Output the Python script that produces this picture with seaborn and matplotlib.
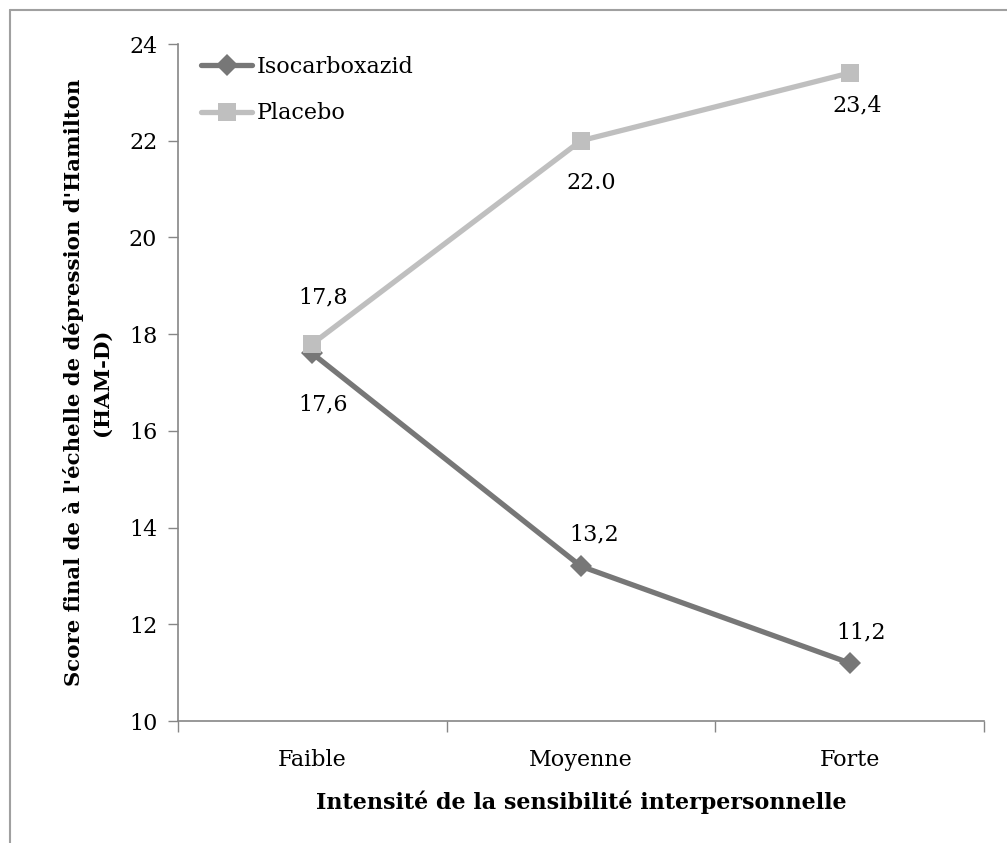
import matplotlib
matplotlib.use("Agg")
import matplotlib.pyplot as plt
import seaborn as sns
import pandas as pd
from matplotlib.lines import Line2D

categories = ["Faible", "Moyenne", "Forte"]
series_names = ["Isocarboxazid", "Placebo"]
iso_values = [17.6, 13.2, 11.2]
placebo_values = [17.8, 22.0, 23.4]
iso_labels = ["17,6", "13,2", "11,2"]
placebo_labels = ["17,8", "22.0", "23,4"]
y_ticks = [10, 12, 14, 16, 18, 20, 22, 24]

sns.set_theme(style="white")
plt.rcParams['font.family'] = ['DejaVu Serif']
plt.rcParams['text.color'] = 'black'

df = pd.DataFrame({
    "cat": categories * 2,
    "val": iso_values + placebo_values,
    "serie": [series_names[0]] * 3 + [series_names[1]] * 3,
})

fig = plt.figure(figsize=(10.07, 8.43), dpi=100)
ax = fig.add_axes([0.1768, 0.1447, 0.977 - 0.1768, 0.9478 - 0.1447])

palette = {"Isocarboxazid": "#777777", "Placebo": "#bfbfbf"}
markers = {"Isocarboxazid": "D", "Placebo": "s"}
sizes_m = {"Isocarboxazid": 11, "Placebo": 13}
for name in series_names:
    sub = df[df["serie"] == name]
    sns.lineplot(data=sub, x="cat", y="val", ax=ax, color=palette[name],
                 marker=markers[name], markersize=sizes_m[name],
                 markeredgewidth=0, linewidth=3.8, label=name, sort=False)

ax.set_xlim(-0.5, 2.5)
ax.set_ylim(10, 24)
ax.set_yticks(y_ticks)
ax.set_yticklabels([str(t) for t in y_ticks])
ax.set_xticks([-0.5, 0.5, 1.5, 2.5], minor=False)
ax.set_xticklabels([])
ax.set_xticks([0, 1, 2], minor=True)
ax.set_xticklabels(categories, minor=True, fontsize=16)
ax.tick_params(axis="x", which="major", length=8, width=1, color="#868686", direction="out", bottom=True)
ax.tick_params(axis="x", which="minor", length=0, pad=20, labelcolor="black")
ax.tick_params(axis="y", length=7, width=1, color="#868686", direction="out", left=True,
               labelsize=16, pad=8, labelcolor="black")

for s in ["top", "right"]:
    ax.spines[s].set_visible(False)
for s in ["left", "bottom"]:
    ax.spines[s].set_color("#868686")
    ax.spines[s].set_linewidth(1.2)

ax.set_xlabel("Intensité de la sensibilité interpersonnelle", fontsize=16, fontweight="bold",
              labelpad=14, color="black")
ax.set_ylabel("Score final de à l'échelle de dépression d'Hamilton\n(HAM-D)", fontsize=15.3,
              fontweight="bold", labelpad=12, color="black", linespacing=1.5)

# data labels (offsets in pixels converted to points)
px = 0.72
iso_off = [(11, -51), (13, 32), (12, 31)]
pla_off = [(11, 46), (10, -42), (8, -32)]
for i, (v, lab) in enumerate(zip(iso_values, iso_labels)):
    ax.annotate(lab, (i, v), xytext=(iso_off[i][0] * px, iso_off[i][1] * px), textcoords="offset points",
                ha="center", va="center", fontsize=16, color="black")
for i, (v, lab) in enumerate(zip(placebo_values, placebo_labels)):
    ax.annotate(lab, (i, v), xytext=(pla_off[i][0] * px, pla_off[i][1] * px), textcoords="offset points",
                ha="center", va="center", fontsize=16, color="black")

leg = ax.legend(loc="upper left", bbox_to_anchor=(0.004, 1.012), frameon=False, fontsize=16,
                handlelength=2.3, handletextpad=0.2, labelspacing=1.1)
for t in leg.get_texts():
    t.set_color("black")

# outer frame (left and top visible)
fig.add_artist(Line2D([10 / 1007, 10 / 1007], [0, 1 - 10 / 843], transform=fig.transFigure, color="#a0a0a0", lw=1.5))
fig.add_artist(Line2D([10 / 1007, 1], [1 - 10 / 843, 1 - 10 / 843], transform=fig.transFigure, color="#a0a0a0", lw=1.5))

fig.savefig("out.png", dpi=100)
